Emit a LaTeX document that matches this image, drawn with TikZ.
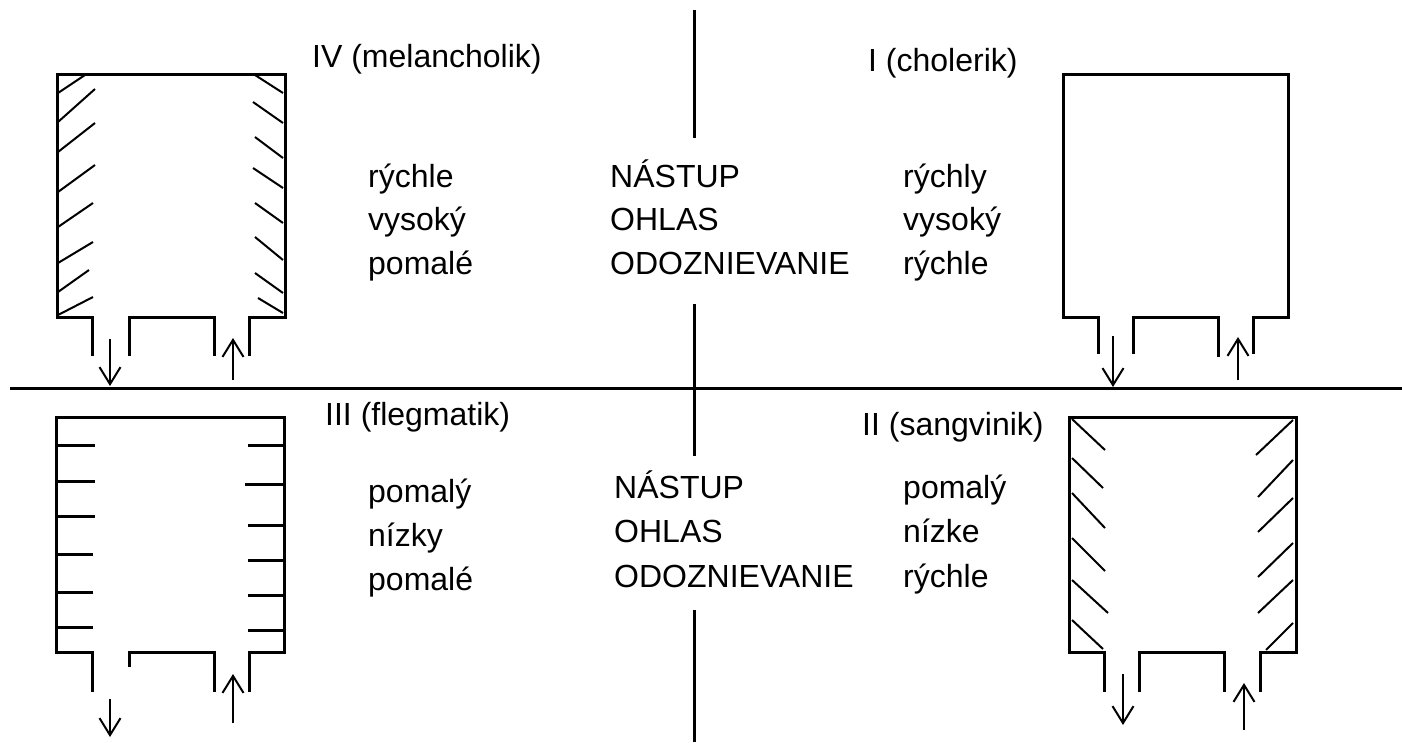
\documentclass[tikz,border=0pt]{standalone}
\usepackage{fontspec}
\setmainfont{Liberation Sans}
\usetikzlibrary{arrows.meta}
\begin{document}
\begin{tikzpicture}[x=1pt,y=-1pt,
  wall/.style={line width=3pt,line join=miter},
  axis/.style={line width=3pt},
  hatch/.style={line width=2pt},
  flow/.style={line width=2pt,-{Straight Barb[length=17pt,width=21pt,line width=2pt]}},
  lbl/.style={anchor=base west,inner sep=0pt,font=\fontsize{32}{38}\selectfont}]
\useasboundingbox (0,0) rectangle (1402,742);
% axes
\draw[axis] (10,388) -- (1402,388);
\draw[axis] (694,10) -- (694,138);
\draw[axis] (694,304) -- (694,456);
\draw[axis] (694,610) -- (694,742);
% ---------- IV (top left)
\draw[wall] (92,356) -- (92,317) -- (57,317) -- (57,74) -- (285,74) -- (285,317) -- (249,317) -- (249,356);
\draw[wall] (129,356) -- (129,317) -- (214,317) -- (214,356);
\foreach \a/\b/\c/\d in {58/93/85/75, 58/122/95/89, 58/152/95/123, 58/192/95/165, 58/227/93/203, 58/263/93/242, 58/292/89/270, 58/315/93/297}
  \draw[hatch] (\a,\b) -- (\c,\d);
\foreach \a/\b/\c/\d in {255/75/283/93, 253/102/283/123, 255/137/283/158, 253/168/283/188, 255/203/283/223, 255/237/283/260, 255/273/283/293, 258/298/283/313}
  \draw[hatch] (\a,\b) -- (\c,\d);
\coordinate (ivoutA) at (110,339); \coordinate (ivoutB) at (110,386);
\coordinate (ivinA) at (233,380); \coordinate (ivinB) at (233,338);
\draw[flow] (ivoutA) -- (ivoutB);
\draw[flow] (ivinA) -- (ivinB);
% ---------- I (top right)
\draw[wall] (1098,354) -- (1098,317) -- (1063,317) -- (1063,74) -- (1288,74) -- (1288,317) -- (1253,317) -- (1253,354);
\draw[wall] (1133,354) -- (1133,317) -- (1218,317) -- (1218,357);
\coordinate (ioutA) at (1113,336); \coordinate (ioutB) at (1113,387);
\coordinate (iinA) at (1238,380); \coordinate (iinB) at (1238,337);
\draw[flow] (ioutA) -- (ioutB);
\draw[flow] (iinA) -- (iinB);
% ---------- III (bottom left)
\draw[wall] (92,692) -- (92,652) -- (56,652) -- (56,417) -- (284,417) -- (284,652) -- (249,652) -- (249,692);
\draw[wall] (129,667) -- (129,652) -- (214,652) -- (214,692);
\foreach \y/\e in {445/95, 481/95, 516/95, 554/93, 592/93, 627/93}
  \draw[axis] (56,\y) -- (\e,\y);
\foreach \y/\s in {445/248, 484/245, 525/248, 560/248, 595/248, 630/248}
  \draw[axis] (\s,\y) -- (284,\y);
\coordinate (iiioutA) at (110,699); \coordinate (iiioutB) at (110,737);
\coordinate (iiiinA) at (233,723); \coordinate (iiiinB) at (233,674);
\draw[flow] (iiioutA) -- (iiioutB);
\draw[flow] (iiiinA) -- (iiiinB);
% ---------- II (bottom right)
\draw[wall] (1104,692) -- (1104,652) -- (1069,652) -- (1069,417) -- (1296,417) -- (1296,652) -- (1260,652) -- (1260,692);
\draw[wall] (1139,692) -- (1139,652) -- (1224,652) -- (1224,692);
\foreach \a/\b/\c/\d in {1072/419/1105/450, 1072/458/1103/488, 1072/493/1105/528, 1072/538/1105/571, 1072/580/1108/613, 1072/620/1103/649}
  \draw[hatch] (\a,\b) -- (\c,\d);
\foreach \a/\b/\c/\d in {1256/455/1293/420, 1258/497/1293/460, 1258/532/1293/498, 1258/577/1293/543, 1258/613/1293/580, 1266/650/1293/623}
  \draw[hatch] (\a,\b) -- (\c,\d);
\coordinate (iioutA) at (1123,674); \coordinate (iioutB) at (1123,725);
\coordinate (iiinA) at (1244,730); \coordinate (iiinB) at (1244,683);
\draw[flow] (iioutA) -- (iioutB);
\draw[flow] (iiinA) -- (iiinB);
% ---------- texts
\node[lbl] (tIV) at (312,67) {IV (melancholik)};
\node[lbl] (tI) at (868,71) {I (cholerik)};
\node[lbl] (tIII) at (325,425) {III (flegmatik)};
\node[lbl] (tII) at (862,435) {II (sangvinik)};
% top middle
\node[lbl] (m1) at (610,187) {NÁSTUP};
\node[lbl] (m2) at (610,230) {OHLAS};
\node[lbl] (m3) at (610,274) {ODOZNIEVANIE};
\node[lbl] (l1) at (368,187) {rýchle};
\node[lbl] (l2) at (368,230) {vysoký};
\node[lbl] (l3) at (368,274) {pomalé};
\node[lbl] (r1) at (903,187) {rýchly};
\node[lbl] (r2) at (903,230) {vysoký};
\node[lbl] (r3) at (903,274) {rýchle};
% bottom middle
\node[lbl] (bm1) at (614,498) {NÁSTUP};
\node[lbl] (bm2) at (614,542) {OHLAS};
\node[lbl] (bm3) at (614,587) {ODOZNIEVANIE};
\node[lbl] (bl1) at (368,502) {pomalý};
\node[lbl] (bl2) at (368,546) {nízky};
\node[lbl] (bl3) at (368,590) {pomalé};
\node[lbl] (br1) at (903,498) {pomalý};
\node[lbl] (br2) at (903,542) {nízke};
\node[lbl] (br3) at (903,587) {rýchle};
\end{tikzpicture}
\end{document}
